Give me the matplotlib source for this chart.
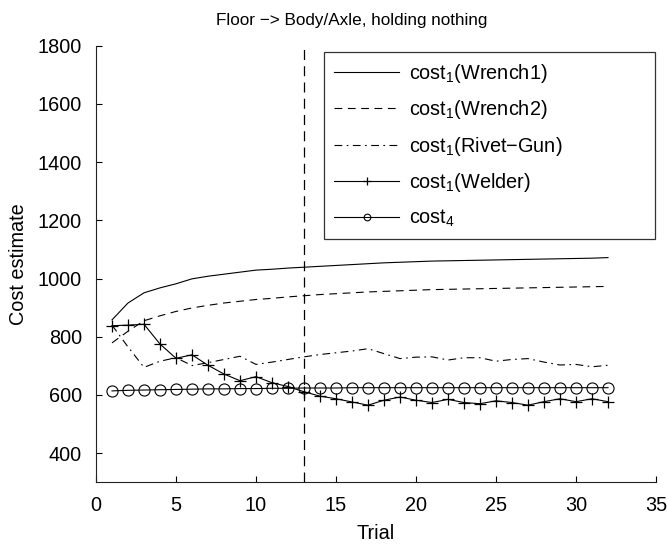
import matplotlib
matplotlib.use("Agg")
import matplotlib.pyplot as plt
import numpy as np

plt.rcParams['font.family'] = ['Liberation Sans', 'DejaVu Sans']
plt.rcParams['mathtext.fontset'] = 'custom'
plt.rcParams['mathtext.rm'] = 'Liberation Sans'
plt.rcParams['mathtext.it'] = 'Liberation Sans'
plt.rcParams['mathtext.default'] = 'regular'

trials = np.arange(1, 33)

wrench1 = [858, 916, 951, 968, 982, 999, 1008, 1015, 1022, 1029, 1032, 1036,
           1039, 1042, 1045, 1048, 1051, 1054, 1056, 1058, 1060, 1061, 1062, 1063,
           1064, 1065, 1066, 1067, 1068, 1069, 1070, 1072]
wrench2 = [779, 819, 855, 872, 887, 899, 908, 916, 922, 928, 932, 937,
           941, 945, 948, 951, 954, 956, 958, 960, 962, 963, 964, 965,
           966, 967, 968, 969, 970, 971, 972, 973]
rivet_gun = [840, 765, 695, 716, 728, 701, 711, 722, 733, 705, 713, 722,
             731, 739, 745, 751, 759, 742, 725, 730, 731, 720, 728, 728,
             716, 722, 725, 713, 703, 705, 697, 702]
welder = [838, 840, 843, 775, 726, 738, 702, 672, 649, 663, 642, 629,
          611, 596, 587, 576, 565, 582, 593, 582, 574, 585, 574, 570,
          580, 574, 565, 577, 587, 577, 587, 577]
cost4 = [614, 616, 617, 618, 619, 620, 621, 621, 622, 622, 623, 623,
         624, 624, 624, 625, 625, 625, 625, 625, 625, 625, 625, 625,
         625, 625, 625, 625, 625, 625, 625, 625]

switch_trial = 13

fig = plt.figure(figsize=(6.68, 5.44), dpi=100)
ax = fig.add_axes([96/668, 1 - 482.3/544, 560/668, (482.3 - 45.7)/544])

lw = 0.8
ax.plot(trials, wrench1, '-', color='black', lw=lw, label='cost$_1$(Wrench1)')
ax.plot(trials, wrench2, '--', color='black', lw=lw, dashes=(7, 5), label='cost$_1$(Wrench2)')
ax.plot(trials, rivet_gun, '-.', color='black', lw=lw, dashes=(7, 4, 1.5, 4),
        label='cost$_1$(Rivet\u2212Gun)')
ax.plot(trials, welder, '-', color='black', lw=lw, marker='+', markersize=9,
        markeredgewidth=0.9, label='cost$_1$(Welder)')
ax.plot(trials, cost4, '-', color='black', lw=lw, marker='o', markersize=8,
        markerfacecolor='none', markeredgewidth=0.8, label='cost$_4$')
ax.axvline(switch_trial, color='black', lw=0.9, linestyle='--', dashes=(8, 5))

ax.set_xlim(0, 35)
ax.set_ylim(300, 1800)
ax.set_xticks(np.arange(0, 36, 5))
ax.set_yticks(np.arange(400, 1801, 200))

for s in ['top', 'right']:
    ax.spines[s].set_visible(False)
ax.spines['left'].set_color('#222222')
ax.spines['bottom'].set_color('#222222')
ax.tick_params(direction='in', length=4, labelsize=14.3)
ax.tick_params(axis='x', pad=10)
ax.tick_params(axis='y', pad=10)

ax.set_xlabel('Trial', fontsize=14.3, labelpad=6)
ax.set_ylabel('Cost estimate', fontsize=14.3, labelpad=7)
ax.set_title('Floor \u2212> Body/Axle, holding nothing', fontsize=12.3, pad=15, x=0.457)

x0 = (324 - 96) / 560
w = 331 / 560
ytop = 1 - (52 - 45.7) / 436.6
leg = ax.legend(loc='upper left', bbox_to_anchor=(x0, ytop - 0.5, w, 0.5), mode='expand',
                fontsize=14.3, handlelength=3.3, markerscale=0.6,
                numpoints=1, labelspacing=0.68, frameon=True, fancybox=False,
                borderaxespad=0.0, handletextpad=0.5, borderpad=0.5)
leg.get_frame().set_edgecolor('black')
leg.get_frame().set_linewidth(0.9)

fig.savefig('out.png', dpi=100)
